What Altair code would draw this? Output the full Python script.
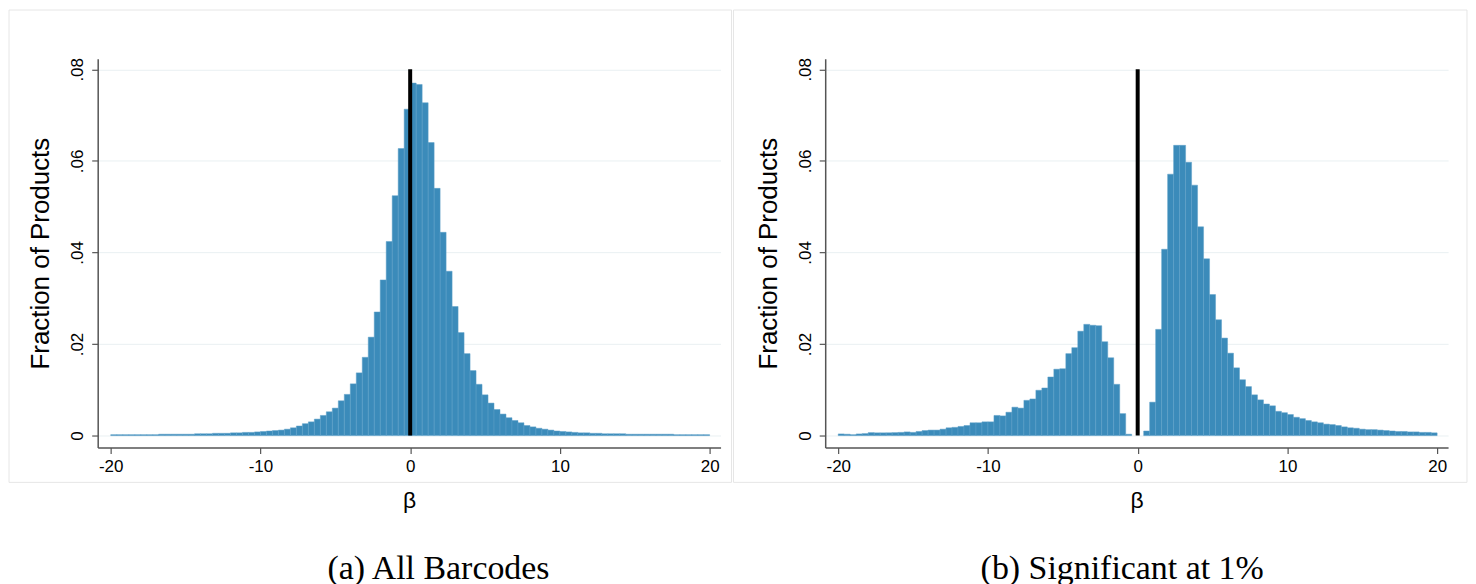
import altair as alt
import pandas as pd

# ---------------- data ----------------
bin_width = 0.4
bin_start = [round(-20 + bin_width * k, 1) for k in range(100)]

frac_all = [
    0.0002, 0.0002, 0.0002, 0.0002, 0.0002, 0.0002, 0.0002, 0.0002, 0.0003, 0.0003,
    0.0003, 0.0003, 0.0003, 0.0003, 0.0004, 0.0004, 0.0004, 0.0005, 0.0005, 0.0005,
    0.0006, 0.0006, 0.0007, 0.0007, 0.0008, 0.0009, 0.0010, 0.0011, 0.0012, 0.0014,
    0.0017, 0.0021, 0.0026, 0.0030, 0.0036, 0.0044, 0.0052, 0.0060, 0.0076, 0.0090,
    0.0113, 0.0137, 0.0171, 0.0215, 0.0270, 0.0340, 0.0424, 0.0524, 0.0627, 0.0713,
    0.0770, 0.0767, 0.0727, 0.0640, 0.0540, 0.0444, 0.0359, 0.0282, 0.0225, 0.0179,
    0.0142, 0.0112, 0.0089, 0.0071, 0.0057, 0.0047, 0.0039, 0.0033, 0.0028, 0.0022,
    0.0019, 0.0016, 0.0014, 0.0012, 0.0010, 0.0009, 0.0008, 0.0007, 0.0006, 0.0006,
    0.0005, 0.0005, 0.0004, 0.0004, 0.0004, 0.0004, 0.0003, 0.0003, 0.0003, 0.0003,
    0.0003, 0.0003, 0.0003, 0.0003, 0.0002, 0.0002, 0.0002, 0.0002, 0.0002, 0.0002,
]

frac_sig = [
    0.00036, 0.0003, 0.0002, 0.00036, 0.00044, 0.00065, 0.0006, 0.0006, 0.0006, 0.00065,
    0.0007, 0.0008, 0.0007, 0.0009, 0.0011, 0.0012, 0.0012, 0.0014, 0.0017, 0.0018,
    0.0020, 0.0022, 0.0028, 0.0028, 0.0030, 0.0030, 0.0044, 0.0043, 0.0051, 0.0062,
    0.0060, 0.0077, 0.0080, 0.0099, 0.0104, 0.0128, 0.0145, 0.0146, 0.0179, 0.0192,
    0.0228, 0.0243, 0.0241, 0.0240, 0.0205, 0.0170, 0.0112, 0.0048, 0.0003, 0.0,
    0.0, 0.0010, 0.0073, 0.0232, 0.0407, 0.0571, 0.0634, 0.0634, 0.0597, 0.0547,
    0.0456, 0.0386, 0.0308, 0.0253, 0.0213, 0.0180, 0.0148, 0.0122, 0.0107, 0.0089,
    0.0078, 0.0069, 0.0065, 0.0053, 0.0050, 0.0046, 0.0040, 0.0037, 0.0033, 0.0030,
    0.0028, 0.0025, 0.0024, 0.0022, 0.0019, 0.0017, 0.0016, 0.0014, 0.0013, 0.0013,
    0.0012, 0.0011, 0.0010, 0.0009, 0.0009, 0.0008, 0.0008, 0.0007, 0.0007, 0.0006,
]

x_ticks = [-20, -10, 0, 10, 20]
y_ticks = [0, 0.02, 0.04, 0.06, 0.08]
captions = ["(a) All Barcodes", "(b) Significant at 1%"]
x_title = "β"
y_title = "Fraction of Products"
ref_line = {"x": [0], "y0": [0], "y1": [0.08]}

# ---------------- style ----------------
BAR = "#3b8bba"
AXIS = "#555555"
W, H = 625, 390
SANS = "Liberation Sans"
SERIF = "Liberation Serif"


def panel(values, caption, rect_l, rect_r, cap_x):
    df = pd.DataFrame({
        "start": bin_start,
        "end": [round(s + bin_width, 1) for s in bin_start],
        "frac": values,
    })
    df["base"] = 0.0
    df = df[df["frac"] > 0]

    xs = alt.Scale(domain=[-20.87, 20.73], nice=False, zero=False)
    ys = alt.Scale(domain=[-0.0026, 0.0823], nice=False, zero=False)

    x_axis = alt.Axis(
        values=x_ticks, labelExpr="'' + datum.value", title=x_title,
        titleFont=SANS, titleFontSize=23, titleFontWeight="normal", titleColor="black",
        titlePadding=15, labelFont=SANS, labelFontSize=17, labelColor="black",
        labelPadding=5, tickSize=6, tickColor=AXIS, tickWidth=1.2,
        domainColor=AXIS, domainWidth=1.5, grid=False,
    )
    y_axis = alt.Axis(
        values=y_ticks,
        labelExpr="datum.value == 0 ? '0' : replace(format(datum.value, '.2f'), '0.', '.')",
        title=y_title, titleFont=SANS, titleFontSize=26, titleFontWeight="normal",
        titleColor="black", titlePadding=15, labelFont=SANS, labelFontSize=17,
        labelColor="black", labelAngle=270, labelAlign="center", labelBaseline="bottom",
        labelPadding=5, tickSize=6, tickColor=AXIS, tickWidth=1.2,
        domainColor=AXIS, domainWidth=1.5, grid=True, gridColor="#e9f0f2", gridWidth=1,
    )

    one = pd.DataFrame({"k": [0]})
    frame = alt.Chart(one).mark_rect(
        fill="white", fillOpacity=0, stroke="#e6e6e6", strokeWidth=1
    ).encode(
        x=alt.value(rect_l), x2=alt.value(rect_r), y=alt.value(-49), y2=alt.value(425)
    )
    bars = alt.Chart(df).mark_bar(color=BAR, stroke="#5e9fc9", strokeWidth=0.5).encode(
        x=alt.X("start:Q", scale=xs, axis=x_axis),
        x2="end:Q",
        y=alt.Y("frac:Q", scale=ys, axis=y_axis),
        y2="base:Q",
    )
    line = alt.Chart(pd.DataFrame(ref_line)).mark_rule(color="black", strokeWidth=4).encode(
        x=alt.X("x:Q", scale=xs), y=alt.Y("y0:Q", scale=ys), y2="y1:Q"
    )
    cap = alt.Chart(one).mark_text(
        font=SERIF, fontSize=34, color="black", align="center", baseline="alphabetic"
    ).encode(x=alt.value(cap_x), y=alt.value(522), text=alt.value(caption))

    return alt.layer(frame, bars, line, cap).properties(width=W, height=H)


left = panel(frac_all, captions[0], -89, 636, 342)
right = panel(frac_sig, captions[1], -92, 644, 298)

chart = alt.hconcat(left, right, spacing=0).properties(padding=0).configure_view(
    stroke=None
)

chart.save("out.html", embed_options={"renderer": "svg", "actions": False})
